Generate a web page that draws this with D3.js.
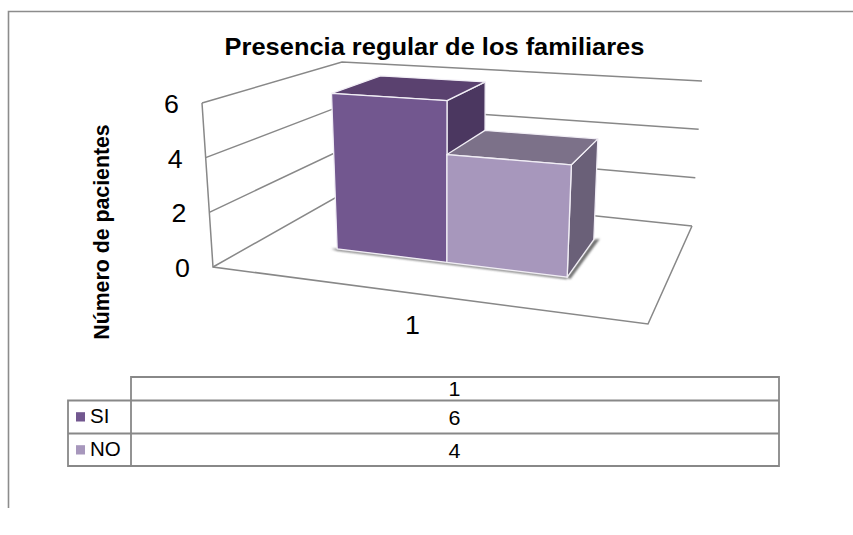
<!DOCTYPE html>
<html>
<head>
<meta charset="utf-8">
<script src="https://cdn.jsdelivr.net/npm/d3@7"></script>
<style>
  html, body { margin: 0; padding: 0; background: #fff; }
  svg { display: block; }
  text { font-family: "Liberation Sans", Arial, sans-serif; fill: #000; }
</style>
</head>
<body>
<svg id="chart" width="853" height="535"></svg>
<script>
// Chart data
const title = "Presencia regular de los familiares";
const yAxisTitle = "Número de pacientes";
const categories = ["1"];
const seriesNames = ["SI", "NO"];
const seriesValues = [[6], [4]];
const yTicks = [0, 2, 4, 6];

const svg = d3.select("#chart");

// Palette per series: front, top and side faces of a column
const faces = [
  { front: "#72578f", top: "#5a416f", side: "#4b3760", key: "#72578f" },
  { front: "#a797bc", top: "#7c7189", side: "#6a6078", key: "#a797bc" }
];
const gridColor = "#888888";

// Corners of the plot box, indexed by [horizontal][vertical][depth]
const box = [
  [[[213, 267], [349, 190]], [[202, 103], [342, 62]]],
  [[[648, 324], [692, 226]], [[660, 134], [702, 81]]]
];

// Trilinear projection of the unit box onto the page
function project(u, v, w) {
  const lerp = (a, b, t) => [a[0] + (b[0] - a[0]) * t, a[1] + (b[1] - a[1]) * t];
  const at = (i, j) => lerp(box[i][j][0], box[i][j][1], w);
  return lerp(lerp(at(0, 0), at(0, 1), v), lerp(at(1, 0), at(1, 1), v), u);
}

const yScale = d3.scaleLinear().domain([0, 6]).range([0, 1]);
// Column edges along the category axis, slightly widened by the perspective
const xEdge = d3.scaleLinear().domain([0, 1, 2]).range([0.188, 0.461, 0.76]);
const depth = d3.scaleOrdinal().domain(["front", "back"]).range([0.357, 0.76]);

const poly = pts => d3.line()(pts) + "Z";
const shift = (p, dx, dy) => [p[0] + dx, p[1] + dy];
const defs = svg.append("defs");
defs.append("filter").attr("id", "soft")
  .attr("x", "-20%").attr("y", "-20%").attr("width", "140%").attr("height", "140%")
  .append("feGaussianBlur").attr("stdDeviation", 1.2);

// Outer frame of the sheet
svg.append("path")
  .attr("d", "M853,11.5H8.5V508")
  .attr("fill", "none").attr("stroke", "#8c8c8c").attr("stroke-width", 1.6);

// Walls and floor of the plot box
const wallStyle = s => s.attr("fill", "none").attr("stroke", gridColor).attr("stroke-width", 1.5);
svg.append("g").selectAll("path")
  .data(yTicks)
  .join("path")
  .attr("d", t => {
    const v = yScale(t);
    return d3.line()([project(0, v, 0), project(0, v, 1), project(1, v, 1)]);
  })
  .call(wallStyle);
svg.append("path")
  .attr("d", d3.line()([project(0, 1, 0), project(0, 0, 0), project(1, 0, 0), project(1, 0, 1)]))
  .call(wallStyle);

// Soft contact shadow under the columns
const wF = depth("front"), wB = depth("back");
const footL = project(xEdge(0), 0, wF), footR = project(xEdge(2), 0, wF), footB = project(xEdge(2), 0, wB);
const shadow = svg.append("g").attr("filter", "url(#soft)").attr("fill", "#6e6e6e");
shadow.append("path").attr("d", poly([shift(footB, 6, -1), shift(footR, 3, 2), footR, footB]));
shadow.append("path").attr("d", poly([shift(footL, -6, 0), footL, footR, shift(footR, 0, 2), shift(footL, 0, 2)]));

// One column per series, sides drawn before the front face
const columns = seriesNames.map((name, i) => ({ name, i, value: seriesValues[i][0] }));
const col = svg.append("g").selectAll("g")
  .data(columns)
  .join("g")
  .attr("stroke", "#f1eef5").attr("stroke-width", 1.3).attr("stroke-linejoin", "round");
col.append("path").attr("fill", d => faces[d.i].side).attr("d", d => {
  const u = xEdge(d.i + 1), v = yScale(d.value);
  return poly([project(u, 0, wF), project(u, 0, wB), project(u, v, wB), project(u, v, wF)]);
});
col.append("path").attr("fill", d => faces[d.i].top).attr("d", d => {
  const a = xEdge(d.i), b = xEdge(d.i + 1), v = yScale(d.value);
  return poly([project(a, v, wF), project(a, v, wB), project(b, v, wB), project(b, v, wF)]);
});
col.append("path").attr("fill", d => faces[d.i].front).attr("d", d => {
  const a = xEdge(d.i), b = xEdge(d.i + 1), v = yScale(d.value);
  return poly([project(a, 0, wF), project(b, 0, wF), project(b, v, wF), project(a, v, wF)]);
});

// Titles and axis labels; horizontal labels are set slightly wide
const wide = (x, y, k) => `translate(${x},${y}) scale(${k},1)`;
svg.append("text").attr("transform", wide(434.5, 55, 1.06)).attr("text-anchor", "middle")
  .attr("font-size", 24).attr("font-weight", "bold").text(title);
svg.append("text").attr("transform", "translate(109,232) rotate(-90)")
  .attr("text-anchor", "middle").attr("font-size", 21.3).attr("font-weight", "bold").text(yAxisTitle);
svg.append("g").selectAll("text")
  .data(yTicks)
  .join("text")
  .attr("font-size", 25.5)
  .attr("text-anchor", "middle")
  .attr("transform", t => {
    const p = project(0, yScale(t), 0);
    return wide(p[0] - 30.5, p[1] + 10, 1.05);
  })
  .text(t => t);
svg.append("g").selectAll("text")
  .data(categories)
  .join("text")
  .attr("transform", wide(412.5, 334, 1.05)).attr("text-anchor", "middle").attr("font-size", 25.5)
  .text(d => d);

// Data table below the plot
const tableLeft = 131, tableRight = 779, keyLeft = 68;
const rowY = [377, 400.5, 433.5, 466];
const table = svg.append("g").attr("stroke", gridColor).attr("stroke-width", 1.8).attr("fill", "none");
table.append("path").attr("d",
  `M${tableLeft},${rowY[3]}V${rowY[0]}H${tableRight}V${rowY[3]}H${keyLeft}V${rowY[1]}H${tableRight}M${keyLeft},${rowY[2]}H${tableRight}`);
const tableCx = 454.5;
svg.append("text").attr("transform", wide(tableCx, rowY[1] - 4.5, 1.05)).attr("text-anchor", "middle")
  .attr("font-size", 20.5).text(categories[0]);
const rows = svg.append("g").selectAll("g").data(columns).join("g");
rows.append("rect").attr("x", 76).attr("width", 9).attr("height", 9.3)
  .attr("y", d => rowY[d.i + 1] + 11.7).attr("fill", d => faces[d.i].key);
rows.append("text").attr("x", 90).attr("y", d => rowY[d.i + 1] + 22.8)
  .attr("font-size", 20.5).text(d => d.name);
rows.append("text").attr("transform", d => wide(tableCx, rowY[d.i + 1] + 24.3, 1.05))
  .attr("text-anchor", "middle").attr("font-size", 20.5).text(d => d.value);
</script>
</body>
</html>
